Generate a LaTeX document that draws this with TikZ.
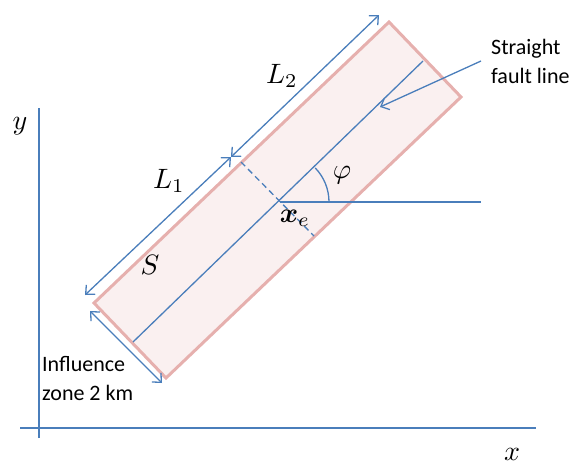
\documentclass[tikz,border=0pt]{standalone}
\usepackage{amsmath}
\usepackage{bm}
\usepackage{fontspec}
\usepackage{xcolor}
\usepackage{tikz}
\usetikzlibrary{arrows.meta,positioning,calc}
\newfontfamily\labelfont{Carlito}
\definecolor{fzblue}{HTML}{4A7EBB}
\definecolor{fzpink}{HTML}{E6B0AE}
\definecolor{fzfill}{HTML}{FAF0F0}
\tikzset{
  axisline/.style={draw=fzblue, line width=1.5pt},
  faultline/.style={draw=fzblue, line width=1.3pt},
  zonebox/.style={draw=fzpink, line width=3pt, fill=fzfill, line join=miter},
  dimarrow/.style={{Straight Barb[length=7pt,width=13pt]}-{Straight Barb[length=7pt,width=13pt]}, draw=fzblue, line width=1.3pt},
  pointarrow/.style={-{Straight Barb[length=7pt,width=13pt]}, draw=fzblue, line width=1.3pt},
  crossline/.style={draw=fzblue, line width=1.3pt, dash pattern=on 6pt off 4pt},
  mathlabel/.style={inner sep=0pt, scale=2.8, transform shape},
  textlabel/.style={inner sep=0pt, align=left, font=\labelfont\fontsize{22}{29}\selectfont}
}
\begin{document}
\begin{tikzpicture}[x=1pt, y=-1pt]
    \useasboundingbox (0,0) rectangle (574,466);
    % zone corners
    \coordinate (za) at (94,303);
    \coordinate (zb) at (389,22);
    \coordinate (zc) at (461,97);
    \coordinate (zd) at (166,378);
    \draw[zonebox] (za) -- (zb) -- (zc) -- (zd) -- cycle;

    % axes
    \coordinate (ybot) at (39,438);
    \coordinate (ytop) at (39,108);
    \coordinate (xleft) at (20,428);
    \coordinate (xright) at (536,428);
    \draw[axisline] (ybot) -- (ytop);
    \draw[axisline] (xleft) -- (xright);
    \node[mathlabel] (ylab) at (20,126) {$y$};
    \node[mathlabel] (xlab) at (512,454) {$x$};

    % fault line and epicentre
    \coordinate (fa) at (133,342);
    \coordinate (fb) at (423,61);
    \coordinate (xe) at (280,202);
    \coordinate (hend) at (481,202);
    \coordinate (pa) at (241,162);
    \coordinate (pb) at (314,236);
    \draw[faultline] (fa) -- (fb);
    \draw[faultline] (xe) -- (hend);
    \draw[crossline] (pa) -- (pb);
    \draw[faultline] ($(xe)+(49,0)$) arc[start angle=0, end angle=-44, radius=49];

    % dimension lines
    \coordinate (ma) at (85,295);
    \coordinate (mb) at (231,157);
    \coordinate (mc) at (379,15);
    \draw[dimarrow] (ma) -- (mb);
    \draw[dimarrow] (mb) -- (mc);
    \coordinate (ia) at (90,311);
    \coordinate (ib) at (162,383);
    \draw[dimarrow] (ia) -- (ib);

    \node[mathlabel] (lone) at (169,181) {$L_1$};
    \node[mathlabel] (ltwo) at (282,76) {$L_2$};
    \node[mathlabel] (slab) at (150,265) {$S$};
    \node[mathlabel] (xelab) at (295,218) {$\bm{x}_e$};
    \node[mathlabel] (philab) at (342,175) {$\varphi$};

    % text labels
    \node[textlabel, anchor=west] (faulttxt) at (491,61) {Straight\\fault line};
    \node[textlabel, anchor=west] (zonetxt) at (42,378) {Influence\\zone 2 km};
    \coordinate (tipfault) at (380,107);
    \draw[pointarrow] ($(faulttxt.west)+(-10,0)$) -- (tipfault);
\end{tikzpicture}
\end{document}
